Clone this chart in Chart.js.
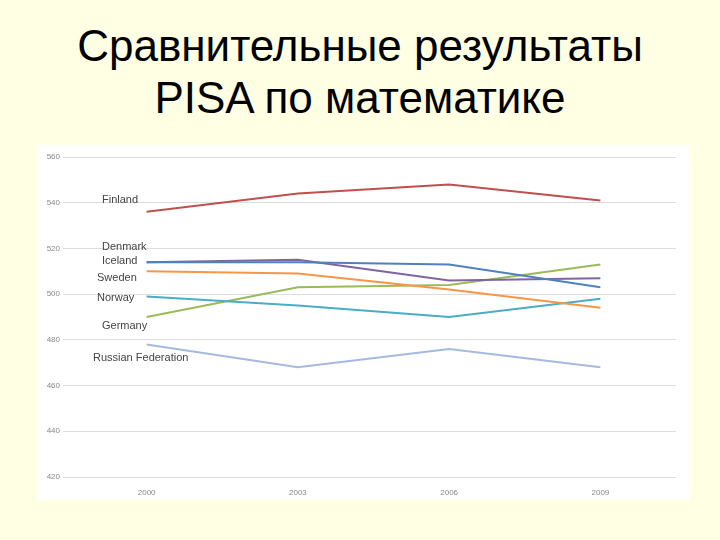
<!DOCTYPE html>
<html><head><meta charset="utf-8">
<script src="https://cdn.jsdelivr.net/npm/chart.js@4"></script>
<style>
body{margin:0;width:720px;height:540px;background:#FFFFE3;position:relative;overflow:hidden;font-family:"Liberation Sans",Arial,sans-serif}
h1{position:absolute;top:20px;left:0;width:720px;margin:0;text-align:center;font-weight:normal;font-size:44px;line-height:52px;color:#000}
#box{position:absolute;left:38px;top:145px;width:652px;height:355px;background:#fff}
</style></head><body>
<h1>Сравнительные результаты<br>PISA по математике</h1>
<div id="box"><canvas id="c" width="652" height="355"></canvas></div>
<script>
const years=["2000","2003","2006","2009"];
const finland=[536,544,548,541];
const denmark=[514,514,513,503];
const iceland=[514,515,506,507];
const sweden=[510,509,502,494];
const norway=[499,495,490,498];
const germany=[490,503,504,513];
const russia=[478,468,476,468];
const labels=[["Finland",541,102],["Denmark",520.5,102],["Iceland",514.5,102],["Sweden",507.2,97],["Norway",498.3,97],["Germany",486,102],["Russian Federation",472,93]];
const mk=(d,c)=>({data:d,borderColor:c,borderWidth:2,pointRadius:0,tension:0,fill:false});
const labelPlugin={id:'lbl',afterDatasetsDraw(ch){const c=ch.ctx,y=ch.scales.y;c.save();c.font='11px "Liberation Sans",Arial';c.fillStyle='#444';c.textBaseline='middle';for(const [t,v,px] of labels){c.fillText(t,px-38,y.getPixelForValue(v));}c.restore();}};
new Chart(document.getElementById('c'),{type:'line',
data:{labels:years,datasets:[mk(finland,'#C0504D'),mk(denmark,'#4F81BD'),mk(iceland,'#8064A2'),mk(sweden,'#F79646'),mk(norway,'#4BACC6'),mk(germany,'#9BBB59'),mk(russia,'#A6B9DE')]},
options:{responsive:false,animation:false,layout:{padding:{top:12,right:14,left:0,bottom:0}},
plugins:{legend:{display:false},tooltip:{enabled:false}},
scales:{x:{offset:true,grid:{display:false},border:{display:false},ticks:{color:'#888',font:{size:8}},afterFit(s){s.height=23;}},
y:{min:420,max:560,ticks:{stepSize:20,color:'#888',font:{size:8}},grid:{color:'#ddd'},border:{display:false},afterFit(s){s.width=33;}}}},
plugins:[labelPlugin]});
</script></body></html>
